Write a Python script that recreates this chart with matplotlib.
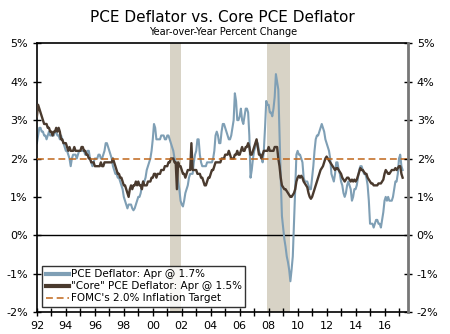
import matplotlib
matplotlib.use("Agg")
import matplotlib.pyplot as plt
import numpy as np

# monthly year-over-year % change, Jan 1992 - Apr 2017
pce = [
    2.4, 2.6, 2.8, 2.8, 2.7, 2.7, 2.6, 2.6, 2.5, 2.6, 2.7, 2.6,   # 1992
    2.6, 2.6, 2.6, 2.7, 2.7, 2.6, 2.6, 2.5, 2.6, 2.5, 2.4, 2.3,   # 1993
    2.2, 2.2, 2.1, 2.0, 1.8, 2.0, 2.1, 2.1, 2.1, 2.0, 2.1, 2.2,   # 1994
    2.2, 2.2, 2.2, 2.2, 2.1, 2.1, 2.2, 2.2, 2.0, 1.9, 1.8, 1.9,   # 1995
    2.0, 2.0, 2.0, 2.1, 2.1, 2.0, 2.0, 2.1, 2.2, 2.4, 2.4, 2.3,   # 1996
    2.2, 2.1, 2.0, 1.8, 1.7, 1.6, 1.6, 1.5, 1.5, 1.4, 1.3, 1.2,   # 1997
    1.0, 0.9, 0.8, 0.7, 0.8, 0.8, 0.8, 0.7, 0.65, 0.7, 0.8, 0.9,  # 1998
    1.0, 1.0, 1.1, 1.3, 1.4, 1.4, 1.5, 1.7, 1.8, 1.9, 2.0, 2.2,   # 1999
    2.5, 2.9, 2.8, 2.5, 2.5, 2.5, 2.5, 2.6, 2.6, 2.6, 2.5, 2.5,   # 2000
    2.6, 2.6, 2.5, 2.4, 2.3, 2.2, 2.0, 1.9, 1.7, 1.4, 1.2, 0.9,   # 2001
    0.8, 0.75, 0.9, 1.1, 1.2, 1.3, 1.5, 1.6, 1.6, 1.6, 1.9, 2.1,  # 2002
    2.2, 2.5, 2.5, 2.1, 1.9, 1.8, 1.8, 1.8, 1.8, 1.9, 1.9, 1.9,   # 2003
    1.9, 1.9, 2.0, 2.2, 2.6, 2.7, 2.6, 2.4, 2.4, 2.7, 2.9, 2.9,   # 2004
    2.8, 2.7, 2.6, 2.5, 2.5, 2.6, 2.8, 3.0, 3.7, 3.5, 3.0, 3.0,   # 2005
    3.1, 3.3, 3.0, 2.9, 3.1, 3.3, 3.3, 3.2, 2.6, 1.5, 1.7, 2.0,   # 2006
    2.2, 2.3, 2.4, 2.4, 2.2, 2.1, 2.1, 1.9, 2.2, 2.8, 3.5, 3.4,   # 2007
    3.4, 3.2, 3.2, 3.1, 3.3, 3.6, 4.2, 4.0, 3.8, 2.6, 1.5, 0.5,   # 2008
    0.2, -0.1, -0.3, -0.55, -0.7, -0.9, -1.2, -0.9, -0.55, 0.3, 1.2, 2.1,  # 2009
    2.2, 2.1, 2.1, 2.0, 1.9, 1.5, 1.4, 1.4, 1.4, 1.3, 1.2, 1.2,   # 2010
    1.5, 1.8, 2.2, 2.5, 2.6, 2.6, 2.7, 2.8, 2.9, 2.8, 2.7, 2.5,   # 2011
    2.4, 2.3, 2.2, 2.0, 1.6, 1.5, 1.4, 1.6, 1.9, 1.9, 1.7, 1.6,   # 2012
    1.4, 1.3, 1.1, 1.0, 1.1, 1.3, 1.4, 1.3, 1.2, 0.9, 1.0, 1.2,   # 2013
    1.2, 1.3, 1.5, 1.7, 1.8, 1.8, 1.7, 1.6, 1.6, 1.5, 1.3, 0.9,   # 2014
    0.3, 0.3, 0.3, 0.2, 0.3, 0.4, 0.4, 0.3, 0.3, 0.2, 0.4, 0.6,   # 2015
    0.9, 1.0, 0.9, 1.0, 0.9, 0.9, 0.9, 1.0, 1.2, 1.4, 1.4, 1.6,   # 2016
    2.0, 2.1, 1.8, 1.7,                                           # 2017
]
core = [
    3.1, 3.4, 3.3, 3.2, 3.1, 3.0, 2.9, 2.9, 2.9, 2.8, 2.8, 2.7,   # 1992
    2.7, 2.6, 2.7, 2.7, 2.8, 2.7, 2.8, 2.7, 2.5, 2.5, 2.4, 2.4,   # 1993
    2.4, 2.3, 2.2, 2.3, 2.2, 2.2, 2.2, 2.3, 2.2, 2.2, 2.2, 2.2,   # 1994
    2.2, 2.3, 2.3, 2.2, 2.2, 2.1, 2.1, 2.0, 2.0, 1.9, 1.9, 1.9,   # 1995
    1.8, 1.8, 1.8, 1.8, 1.8, 1.9, 1.8, 1.8, 1.9, 1.9, 1.9, 1.9,   # 1996
    1.9, 1.9, 1.9, 2.0, 1.9, 1.8, 1.7, 1.6, 1.6, 1.5, 1.5, 1.4,   # 1997
    1.3, 1.3, 1.2, 1.1, 1.0, 1.2, 1.3, 1.2, 1.3, 1.3, 1.4, 1.3,   # 1998
    1.4, 1.3, 1.3, 1.2, 1.4, 1.3, 1.3, 1.3, 1.4, 1.4, 1.4, 1.5,   # 1999
    1.5, 1.6, 1.6, 1.5, 1.6, 1.6, 1.6, 1.7, 1.7, 1.7, 1.8, 1.8,   # 2000
    1.8, 1.9, 1.9, 2.0, 2.0, 2.0, 1.9, 1.9, 1.2, 1.9, 1.8, 1.8,   # 2001
    1.7, 1.6, 1.6, 1.5, 1.6, 1.7, 1.7, 1.7, 2.4, 1.7, 1.7, 1.7,   # 2002
    1.7, 1.6, 1.6, 1.6, 1.5, 1.5, 1.4, 1.3, 1.3, 1.4, 1.5, 1.5,   # 2003
    1.6, 1.7, 1.7, 1.8, 1.9, 1.9, 1.9, 1.9, 1.9, 2.0, 2.0, 2.0,   # 2004
    2.1, 2.1, 2.1, 2.2, 2.1, 2.0, 2.0, 2.0, 2.1, 2.1, 2.2, 2.1,   # 2005
    2.1, 2.2, 2.3, 2.2, 2.2, 2.3, 2.3, 2.4, 2.3, 2.1, 2.1, 2.2,   # 2006
    2.3, 2.4, 2.5, 2.3, 2.1, 2.1, 2.0, 2.1, 2.2, 2.2, 2.2, 2.2,   # 2007
    2.3, 2.2, 2.2, 2.2, 2.2, 2.3, 2.3, 2.3, 2.0, 1.8, 1.5, 1.3,   # 2008
    1.25, 1.2, 1.2, 1.15, 1.1, 1.05, 1.0, 1.0, 1.05, 1.1, 1.2, 1.4,  # 2009
    1.5, 1.55, 1.5, 1.55, 1.5, 1.4, 1.35, 1.3, 1.25, 1.1, 1.0, 0.95,  # 2010
    1.0, 1.1, 1.2, 1.3, 1.4, 1.5, 1.6, 1.7, 1.75, 1.8, 1.9, 2.0,  # 2011
    2.05, 2.0, 1.95, 1.9, 1.85, 1.8, 1.75, 1.7, 1.75, 1.75, 1.7, 1.65,  # 2012
    1.6, 1.5, 1.45, 1.4, 1.45, 1.5, 1.5, 1.45, 1.4, 1.45, 1.4, 1.45,  # 2013
    1.4, 1.45, 1.55, 1.65, 1.75, 1.7, 1.7, 1.65, 1.6, 1.6, 1.5, 1.45,  # 2014
    1.4, 1.35, 1.35, 1.3, 1.3, 1.3, 1.3, 1.35, 1.35, 1.35, 1.4, 1.45,  # 2015
    1.6, 1.7, 1.65, 1.6, 1.6, 1.65, 1.7, 1.7, 1.7, 1.75, 1.7, 1.75,  # 2016
    1.8, 1.8, 1.6, 1.5,                                              # 2017
]
start_year = 1992
target = 2.0
recessions = [(2001.17, 2001.92), (2007.92, 2009.45)]
labels = ["PCE Deflator: Apr @ 1.7%", '"Core" PCE Deflator: Apr @ 1.5%',
          "FOMC's 2.0% Inflation Target"]

t = start_year + np.arange(len(pce)) / 12.0

fig = plt.figure(figsize=(4.5, 3.34), dpi=100)
ax = fig.add_axes([0.082, 0.066, 0.824, 0.804])

for a, b in recessions:
    ax.axvspan(a, b, color="#d8d3c6", lw=0, zorder=0)

ax.axhline(0, color="black", lw=1, zorder=1)
l1, = ax.plot(t, pce, color="#7f9fb5", lw=1.5, zorder=2)
l2, = ax.plot(t, core, color="#4a3a2e", lw=1.7, zorder=3)
l3, = ax.plot([start_year, 2017.6], [target, target], color="#c0661a", lw=1.1,
              dashes=(4.5, 2.5), zorder=4)

ax.set_xlim(start_year, 2017.6)
ax.set_ylim(-2, 5)

yt = np.arange(-2, 6)
ax.set_yticks(yt)
ax.set_yticklabels([f"{v}%" for v in yt], fontsize=8)
ax.set_xticks(np.arange(1992, 2018, 2))
ax.set_xticklabels([f"{y % 100:02d}" for y in range(1992, 2018, 2)], fontsize=8)
ax.set_xticks(np.arange(1992, 2018), minor=True)
ax.tick_params(axis="both", which="both", direction="inout", length=6, width=1)
ax.tick_params(axis="y", left=True, right=False)

ax2 = ax.twinx()
ax2.set_ylim(-2, 5)
ax2.set_yticks(yt)
ax2.set_yticklabels([f"{v}%" for v in yt], fontsize=8)
ax2.tick_params(axis="y", direction="inout", length=6, width=1)

for s in ["top", "left", "bottom"]:
    ax.spines[s].set_color("black")
    ax.spines[s].set_linewidth(1.2)
ax.spines["right"].set_visible(False)
ax2.spines["left"].set_visible(False)
ax2.spines["top"].set_visible(False)
ax2.spines["bottom"].set_visible(False)
ax2.spines["right"].set_color("#777777")
ax2.spines["right"].set_linewidth(2)

leg = ax.legend([l1, l2, l3], labels, loc="lower left",
                bbox_to_anchor=(0.015, 0.02), fontsize=7.5, frameon=True,
                fancybox=False, handlelength=2.2, handletextpad=0.2,
                borderpad=0.3, labelspacing=0.2, borderaxespad=0)
leg.get_frame().set_edgecolor("black")
leg.get_frame().set_linewidth(1)
leg.get_lines()[0].set_linewidth(3)
leg.get_lines()[1].set_linewidth(3)

fig.text(0.495, 0.948, "PCE Deflator vs. Core PCE Deflator", ha="center",
         va="center", fontsize=11)
fig.text(0.495, 0.905, "Year-over-Year Percent Change", ha="center",
         va="center", fontsize=7)

fig.savefig("out.png", dpi=100)
